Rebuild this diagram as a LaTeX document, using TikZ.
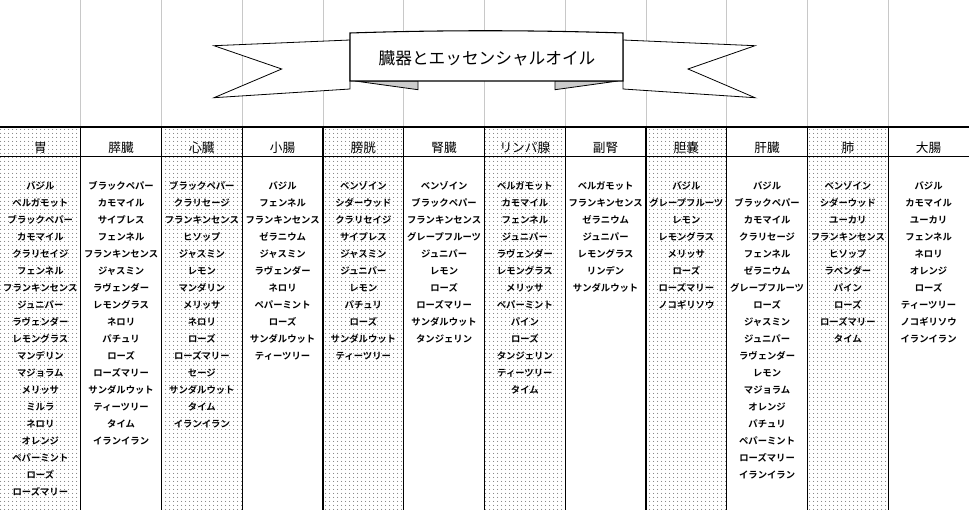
\documentclass[tikz,border=0pt]{standalone}
\usepackage{fontspec}
\newfontfamily\jpfont{Noto Sans CJK JP}
\newfontfamily\jpbold{Noto Sans CJK JP Bold}
\usetikzlibrary{patterns.meta}
\tikzdeclarepattern{
  name=sparsedots,
  type=uncolored,
  bounding box={(0,0) and (3pt,3pt)},
  tile size={(3pt,3pt)},
  code={\fill (1.5pt,1.5pt) circle (0.42pt);}
}
\tikzset{
  oilitem/.style={inner sep=0pt,font=\jpbold\fontsize{7}{8}\selectfont},
  organhead/.style={inner sep=0pt,anchor=base,font=\jpfont\fontsize{9.5}{10}\selectfont},
  gridline/.style={draw={rgb,255:red,200;green,200;blue,200},line width=0.6pt},
}
\begin{document}
\begin{tikzpicture}[x=0.75pt,y=0.75pt,yscale=-1,xscale=1]
\useasboundingbox (0,0) rectangle (969,510);
\fill[white] (0,0) rectangle (969,510);

% grey sheet grid
\foreach \k in {1,...,11}
  \draw[gridline] (80.75*\k,0) -- (80.75*\k,127);

% dotted columns
\foreach \k in {0,2,4,6,8,10}
  \fill[pattern=sparsedots,pattern color=black!80] (80.75*\k,127) rectangle (80.75*\k+80.75,510);

% column rules
\foreach \k in {1,...,11}
  \draw[line width=0.8pt] (80.75*\k,127) -- (80.75*\k,510);
\draw[line width=1.4pt] (0,127) -- (969,127);
\draw[line width=1.4pt] (0,156.5) -- (969,156.5);

% columns
\foreach \organ/\oils [count=\i] in {
  胃/{バジル,ベルガモット,ブラックペパー,カモマイル,クラリセイジ,フェンネル,フランキンセンス,ジュニパー,ラヴェンダー,レモングラス,マンデリン,マジョラム,メリッサ,ミルラ,ネロリ,オレンジ,ペパーミント,ローズ,ローズマリー},
  膵臓/{ブラックペパー,カモマイル,サイプレス,フェンネル,フランキンセンス,ジャスミン,ラヴェンダー,レモングラス,ネロリ,パチュリ,ローズ,ローズマリー,サンダルウット,ティーツリー,タイム,イランイラン},
  心臓/{ブラックペパー,クラリセージ,フランキンセンス,ヒソップ,ジャスミン,レモン,マンダリン,メリッサ,ネロリ,ローズ,ローズマリー,セージ,サンダルウット,タイム,イランイラン},
  小腸/{バジル,フェンネル,フランキンセンス,ゼラニウム,ジャスミン,ラヴェンダー,ネロリ,ペパーミント,ローズ,サンダルウット,ティーツリー},
  膀胱/{ベンゾイン,シダーウッド,クラリセイジ,サイプレス,ジャスミン,ジュニパー,レモン,パチュリ,ローズ,サンダルウット,ティーツリー},
  腎臓/{ベンゾイン,ブラックペパー,フランキンセンス,グレープフルーツ,ジュニパー,レモン,ローズ,ローズマリー,サンダルウット,タンジェリン},
  リンパ腺/{ベルガモット,カモマイル,フェンネル,ジュニパー,ラヴェンダー,レモングラス,メリッサ,ペパーミント,パイン,ローズ,タンジェリン,ティーツリー,タイム},
  副腎/{ベルガモット,フランキンセンス,ゼラニウム,ジュニパー,レモングラス,リンデン,サンダルウット},
  胆嚢/{バジル,グレープフルーツ,レモン,レモングラス,メリッサ,ローズ,ローズマリー,ノコギリソウ},
  肝臓/{バジル,ブラックペパー,カモマイル,クラリセージ,フェンネル,ゼラニウム,グレープフルーツ,ローズ,ジャスミン,ジュニパー,ラヴェンダー,レモン,マジョラム,オレンジ,パチュリ,ペパーミント,ローズマリー,イランイラン},
  肺/{ベンゾイン,シダーウッド,ユーカリ,フランキンセンス,ヒソップ,ラベンダー,パイン,ローズ,ローズマリー,タイム},
  大腸/{バジル,カモマイル,ユーカリ,フェンネル,ネロリ,オレンジ,ローズ,ティーツリー,ノコギリソウ,イランイラン}}
{
  \node[organhead] (head\i) at (80.75*\i-40.4,152) {\organ};
  \foreach \oil [count=\j] in \oils
    \node[oilitem] (oil\i-\j) at (80.75*\i-40.4,186+17*\j-17) {\oil};
}

% banner
\draw[fill=white,line width=0.6pt] (214,45.7) -- (350,40) -- (350,89) -- (214,97.7) -- (281.7,69) -- cycle;
\draw[fill=white,line width=0.6pt] (755,45.7) -- (623,40) -- (623,89) -- (755,97.7) -- (688,69) -- cycle;
\draw[fill=black!20,line width=0.6pt] (355,81) -- (418,81) -- (418,89.7) -- cycle;
\draw[fill=black!20,line width=0.6pt] (618,81) -- (555,81) -- (555,89.7) -- cycle;
\draw[fill=white,line width=0.8pt] (350,33) .. controls (440,30) and (530,30) .. (623,33) -- (623,81) -- (350,81) -- cycle;
% Text Node
\node[inner sep=0pt,font=\jpfont\fontsize{12.5}{13}\selectfont] (title) at (487,58) {臓器とエッセンシャルオイル};
\end{tikzpicture}
\end{document}
